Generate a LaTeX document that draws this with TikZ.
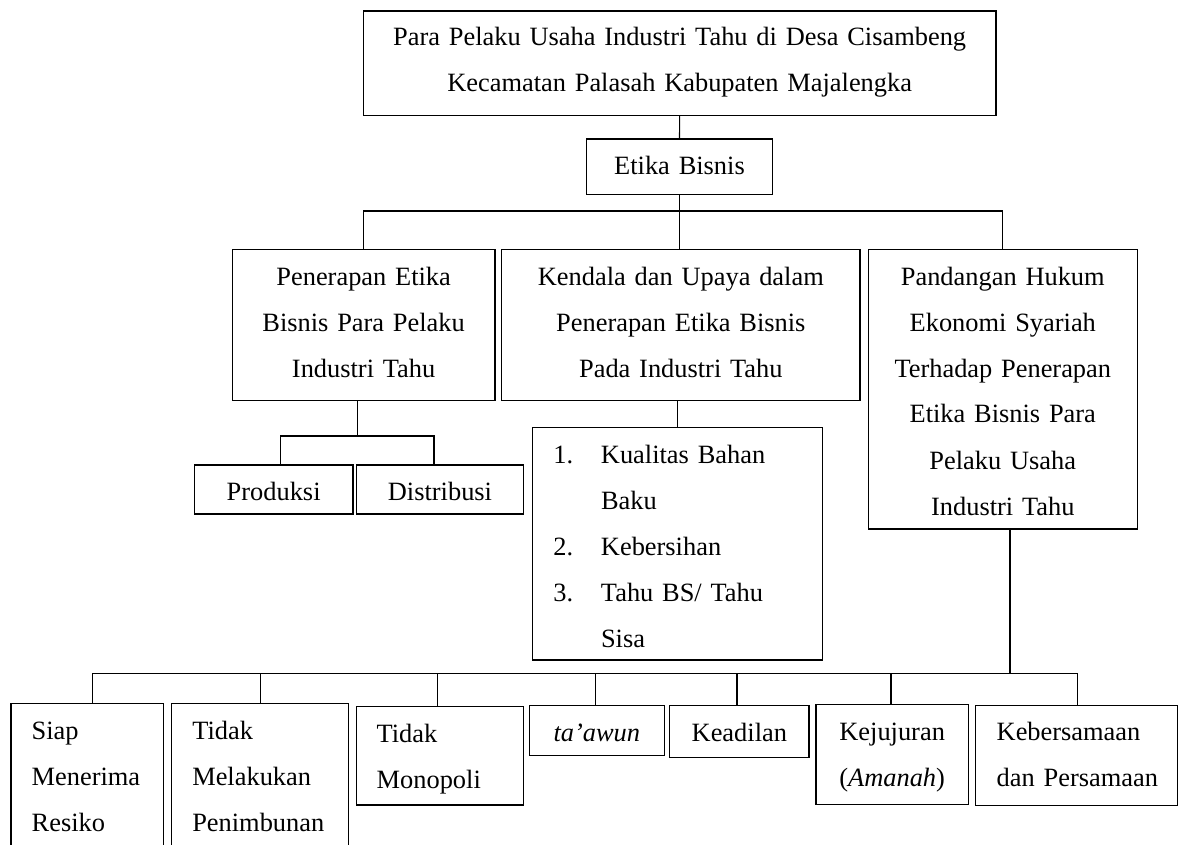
\documentclass[tikz,border=0pt]{standalone}
\usepackage{fontspec}
\setmainfont{Liberation Serif}
\newcommand\myind[1]{\hspace*{#1pt}}
\begin{document}
\begin{tikzpicture}[x=1pt,y=-1pt,
  box/.style={draw, line width=1.1pt, inner ysep=0pt, inner xsep=0pt, outer sep=0pt,
    anchor=north west, font=\fontsize{26.4}{46}\selectfont},
  lbox/.style={box, align=left, text width=#1},
  ln/.style={line width=1.1pt}]
\clip (0,0) rectangle (1178,845);
\useasboundingbox (0,0) rectangle (1178,845);

% top level
\node[box, text width=632.7pt, align=center, text height=34.7pt, text depth=70pt] (top) at (363.3,11)
  {Para Pelaku Usaha Industri Tahu di Desa Cisambeng\\Kecamatan Palasah Kabupaten Majalengka};
\node[box, text width=185.6pt, align=center, text height=35.3pt, text depth=20pt] (etika) at (586.7,139)
  {Etika Bisnis};

% second level
\node[box, text width=262.7pt, align=center, text height=35.7pt, text depth=115.7pt] (pen) at (232.3,249.3)
  {Penerapan Etika\\Bisnis Para Pelaku\\Industri Tahu};
\node[box, text width=358.3pt, align=center, text height=35.7pt, text depth=115.7pt] (ken) at (501.7,249.3)
  {Kendala dan Upaya dalam\\Penerapan Etika Bisnis\\Pada Industri Tahu};
\node[box, text width=269pt, align=center, text height=35.7pt, text depth=244pt] (pan) at (868.3,249.3)
  {Pandangan Hukum\\Ekonomi Syariah\\Terhadap Penerapan\\Etika Bisnis Para\\Pelaku Usaha\\Industri Tahu};

% third level
\node[box, text width=158.7pt, align=center, text height=35pt, text depth=14pt] (pro) at (194.3,465)
  {Produksi};
\node[box, text width=166.6pt, align=center, text height=35pt, text depth=14pt] (dis) at (356.7,465)
  {Distribusi};
\node[lbox=290.4pt, text height=36pt, text depth=196.7pt] (lst) at (532.3,427.3)
  {\myind{21}\makebox[47.7pt][l]{1.}Kualitas Bahan\\\myind{68.7}Baku\\\myind{21}\makebox[47.7pt][l]{2.}Kebersihan\\\myind{21}\makebox[47.7pt][l]{3.}Tahu BS/ Tahu\\\myind{68.7}Sisa};

% bottom level
\node[lbox=152.3pt, text height=36pt, text depth=124pt] (b1) at (11,703.3)
  {\myind{20.7}Siap\\\myind{20.7}Menerima\\\myind{20.7}Resiko};
\node[lbox=176.6pt, text height=36pt, text depth=124pt] (b2) at (171.7,703.3)
  {\myind{20.6}Tidak\\\myind{20.6}Melakukan\\\myind{20.6}Penimbunan};
\node[lbox=167pt, text height=35.5pt, text depth=62.8pt] (b3) at (356.7,706.7)
  {\myind{20}Tidak\\\myind{20}Monopoli};
\node[box, text width=135pt, align=center, text height=35.3pt, text depth=14.7pt] (b4) at (529.3,705.7)
  {\textit{ta’awun}};
\node[box, text width=139.3pt, align=center, text height=35.3pt, text depth=16.5pt] (b5) at (669.7,705.7)
  {Keadilan};
\node[box, text width=152.3pt, align=center, text height=35.7pt, text depth=64.3pt] (b6) at (816,704.3)
  {Kejujuran\\(\textit{Amanah})};
\node[lbox=202pt, text height=34.3pt, text depth=65.7pt] (b7) at (975.7,705.7)
  {\myind{21}Kebersamaan\\\myind{21}dan Persamaan};

% connectors
\draw[ln] (top.south) -- (etika.north);
\coordinate (bar1) at (680,211);
\draw[ln] (etika.south) -- (etika.south |- ken.north);
\draw[ln] (pen.north) |- (bar1) -| (pan.north);

\coordinate (j1) at (357.3,436);
\coordinate (p1) at (280.7,436);
\coordinate (p2) at (434,436);
\draw[ln] (pen.south -| j1) -- (j1);
\draw[ln] (p1 |- pro.north) -- (p1) -- (p2) -- (p2 |- dis.north);

\coordinate (k1) at (677.3,0);
\draw[ln] (ken.south -| k1) -- (lst.north -| k1);

\coordinate (q) at (1010,673.3);
\draw[ln] (pan.south -| q) -- (q);
\coordinate (d1) at (92.7,673.3);
\coordinate (d2) at (260.7,673.3);
\coordinate (d3) at (437.7,673.3);
\coordinate (d4) at (595.7,673.3);
\coordinate (d5) at (737,673.3);
\coordinate (d6) at (891,673.3);
\coordinate (d7) at (1077.3,673.3);
\draw[ln] (d1) -- (d7);
\foreach \i in {1,...,7} \draw[ln] (d\i) -- (d\i |- b\i.north);
\end{tikzpicture}
\end{document}
